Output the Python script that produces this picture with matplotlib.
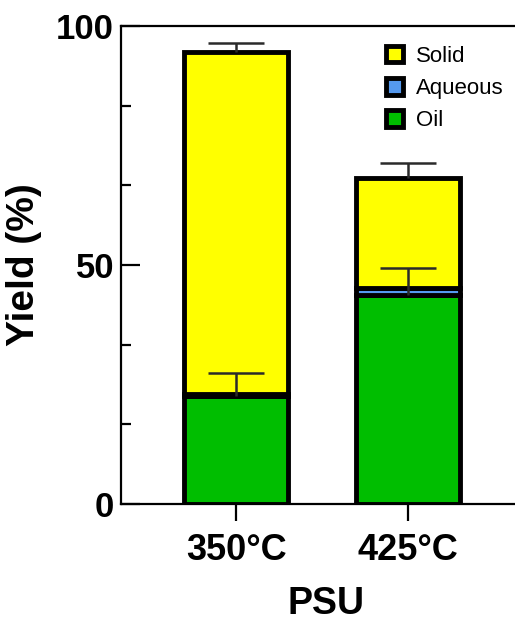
import matplotlib
matplotlib.use("Agg")
import matplotlib.pyplot as plt
import numpy as np
from matplotlib.ticker import MultipleLocator
from matplotlib.patches import Patch

plt.rcParams['font.family'] = ['Liberation Sans', 'DejaVu Sans']

# values (Yield %)
categories = ['350°C', '425°C']
oil = [22.6, 43.8]
aqueous = [0.4, 1.3]
solid = [71.6, 23.0]
oil_err = [4.8, 5.6]
solid_err = [1.9, 3.3]

oil_c = '#00BE00'
aq_c = '#5599EE'
solid_c = '#FFFF00'

fig = plt.figure(figsize=(5.15, 6.26), dpi=100)
ax = fig.add_axes([121/515, 122/626, 409/515, 478/626])

x = np.arange(len(categories))
oil = np.array(oil)
aqueous = np.array(aqueous)
solid = np.array(solid)
w = 0.6
lw = 3.5

ax.bar(x, oil, w, color=oil_c, edgecolor='black', linewidth=lw, zorder=2)
ax.bar(x, aqueous, w, bottom=oil, color=aq_c, edgecolor='black', linewidth=lw, zorder=2)
ax.bar(x, solid, w, bottom=oil + aqueous, color=solid_c, edgecolor='black', linewidth=lw, zorder=2)

for base, err in [(oil, oil_err), (oil + aqueous + solid, solid_err)]:
    eb = ax.errorbar(x, base, yerr=[np.zeros(2), err], fmt='none', ecolor='#2a2a2a',
                     elinewidth=1.8, capsize=20, capthick=1.8, zorder=3)
    eb[1][0].set_visible(False)  # hide the lower (zero) cap

ax.set_ylim(0, 100)
ax.set_xlim(-0.669, 1.709)
ax.set_yticks([0, 50, 100])
ax.yaxis.set_minor_locator(MultipleLocator(50/3))
ax.set_xticks(x)
ax.set_xticklabels(categories)

for s in ['left', 'top', 'bottom']:
    ax.spines[s].set_linewidth(1.6)
ax.spines['right'].set_visible(False)

ax.tick_params(axis='y', which='major', direction='in', length=14, width=1.6,
               labelsize=25, pad=5)
ax.tick_params(axis='y', which='minor', direction='in', length=7, width=1.6)
ax.tick_params(axis='x', which='major', direction='out', length=12, width=1.6,
               labelsize=26, pad=9)
for lab in ax.get_xticklabels() + ax.get_yticklabels():
    lab.set_fontweight('bold')

ax.set_ylabel('Yield (%)', fontsize=28, fontweight='bold', labelpad=10)
ax.set_xlabel('PSU', fontsize=27, fontweight='bold', labelpad=13)

handles = [Patch(facecolor=solid_c, edgecolor='black', linewidth=3.5, label='Solid'),
           Patch(facecolor=aq_c, edgecolor='black', linewidth=3.5, label='Aqueous'),
           Patch(facecolor=oil_c, edgecolor='black', linewidth=3.5, label='Oil')]
ax.legend(handles=handles, loc='upper left', bbox_to_anchor=(0.6, 1.0),
          frameon=False, fontsize=16, handlelength=0.75, handleheight=0.75,
          handletextpad=0.6, labelspacing=0.5)

fig.savefig('out.png', dpi=100)
